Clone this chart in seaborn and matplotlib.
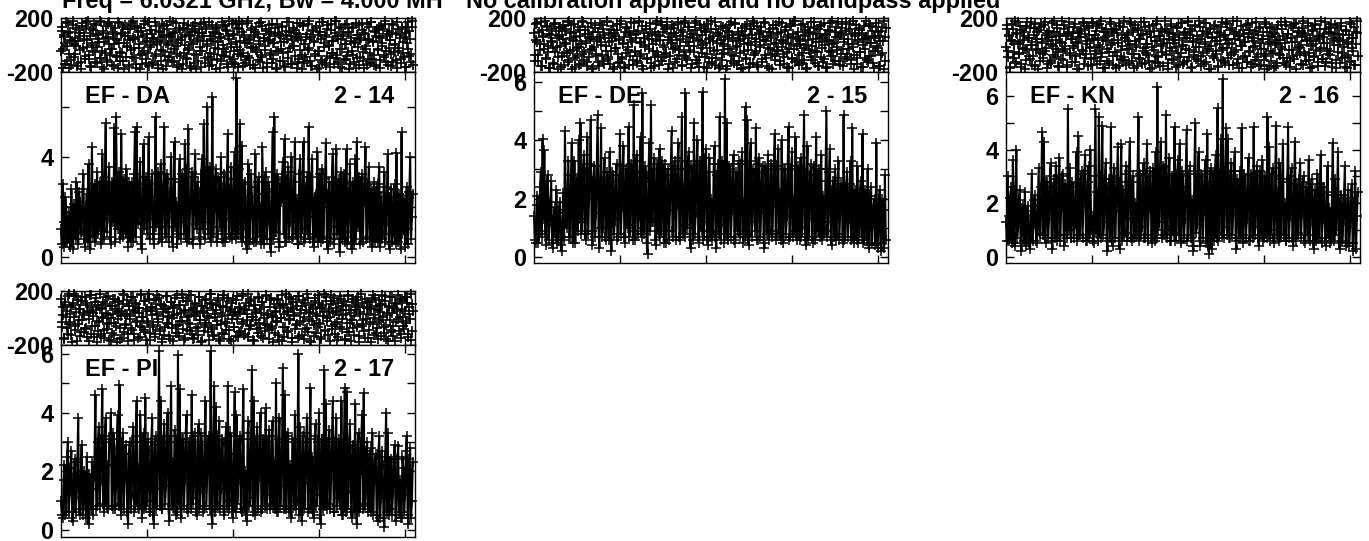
import numpy as np
import matplotlib
matplotlib.use('Agg')
import matplotlib.pyplot as plt
import seaborn as sns

baselines = ['EF - DA', 'EF - DE', 'EF - KN', 'EF - PI']
ids = ['2 - 14', '2 - 15', '2 - 16', '2 - 17']

# amplitudes on even channels
amp_da = [
    1.1, 2.9, 0.4, 2.0, 0.7, 1.6, 2.7, 0.3, 1.9, 3.0, 0.5, 2.2, 1.0, 3.3, 0.4, 2.5, 3.7, 0.3, 4.4, 1.4,
    0.6, 3.4, 1.2, 2.8, 4.1, 0.7, 5.35, 1.5, 3.6, 0.5, 2.9, 5.15, 5.6, 1.1, 3.2, 4.9, 0.8, 2.6, 3.5, 0.4,
    1.7, 3.0, 0.6, 5.0, 5.2, 1.3, 3.8, 0.3, 4.5, 2.1, 0.9, 4.8, 1.5, 3.3, 0.5, 5.6, 2.4, 0.7, 3.7, 1.2,
    5.2, 0.8, 3.1, 1.6, 4.0, 0.4, 4.6, 2.2, 0.9, 3.9, 1.4, 2.7, 4.5, 0.6, 5.1, 1.9, 3.4, 0.7, 4.1, 1.1,
    2.6, 0.5, 3.9, 5.3, 1.4, 6.0, 2.8, 0.6, 6.4, 1.8, 3.5, 0.9, 2.9, 4.0, 0.6, 3.3, 1.5, 4.9, 0.8, 3.6,
    1.2, 4.2, 7.15, 0.9, 5.3, 4.45, 1.1, 3.0, 0.3, 3.7, 1.6, 2.4, 0.6, 4.1, 1.0, 3.2, 2.0, 4.4, 0.5, 3.4,
    1.3, 2.7, 0.2, 5.0, 5.6, 1.0, 3.1, 0.4, 2.2, 3.8, 4.7, 0.6, 3.6, 1.4, 4.0, 0.8, 4.6, 2.3, 0.5, 3.9,
    1.1, 4.6, 0.7, 3.2, 5.2, 1.6, 3.9, 0.4, 2.5, 4.2, 1.3, 0.6, 3.5, 2.0, 4.55, 0.3, 3.0, 1.2, 4.1, 0.7,
    4.3, 1.5, 0.2, 3.4, 2.1, 0.6, 4.3, 1.0, 3.7, 0.3, 2.6, 3.9, 4.6, 1.4, 0.5, 3.3, 2.2, 4.4, 0.8, 3.6,
    1.2, 0.4, 3.0, 1.9, 0.6, 3.6, 2.4, 0.9, 3.4, 1.3, 4.1, 0.3, 2.7, 1.0, 2.9, 4.15, 0.6, 2.2, 5.0, 1.5,
    0.4, 2.8, 1.1, 4.0, 1.6,
]
amp_de = [
    1.4, 0.5, 2.1, 0.8, 2.9, 4.05, 3.65, 0.4, 2.8, 1.1, 2.6, 0.3, 1.7, 2.3, 0.6, 1.9, 0.2, 2.2, 4.3, 1.0,
    3.3, 0.7, 3.9, 1.6, 0.5, 2.7, 4.0, 4.6, 1.2, 3.5, 0.6, 4.1, 2.0, 4.7, 0.4, 3.1, 1.5, 4.85, 0.3, 4.4,
    1.0, 3.4, 0.6, 2.5, 3.6, 0.2, 2.8, 1.3, 3.2, 0.7, 4.2, 1.7, 3.8, 0.5, 2.4, 4.45, 1.1, 3.0, 5.2, 0.6,
    3.5, 1.4, 4.1, 5.6, 0.8, 2.9, 0.1, 3.9, 5.2, 1.2, 3.4, 0.4, 2.1, 3.7, 0.9, 2.6, 3.2, 0.5, 3.0, 1.6,
    4.3, 0.7, 3.3, 1.8, 3.9, 0.6, 4.8, 2.4, 5.6, 1.0, 3.6, 0.3, 2.9, 4.6, 1.5, 4.0, 0.5, 3.1, 5.65, 1.2,
    3.7, 0.4, 3.4, 2.0, 0.9, 3.8, 0.3, 3.2, 4.8, 1.1, 2.7, 6.1, 4.6, 0.7, 3.0, 1.6, 3.5, 0.5, 2.3, 3.3,
    0.8, 3.6, 1.9, 5.15, 4.7, 0.4, 3.9, 1.2, 2.8, 4.4, 0.6, 3.4, 1.5, 3.1, 0.3, 2.5, 3.5, 0.9, 3.2, 1.7,
    4.2, 0.8, 3.7, 2.2, 4.0, 0.5, 3.0, 1.4, 4.45, 0.7, 3.6, 2.0, 4.1, 0.6, 2.7, 3.4, 1.0, 4.85, 0.4, 3.8,
    1.3, 3.2, 0.5, 2.8, 4.1, 1.6, 0.7, 3.5, 2.1, 0.9, 5.0, 1.2, 3.7, 0.4, 2.6, 3.0, 0.8, 3.3, 1.5, 2.4,
    4.85, 0.7, 2.9, 1.3, 3.3, 4.4, 0.5, 2.2, 3.1, 1.0, 2.6, 4.2, 0.6, 1.8, 3.0, 0.4, 2.4, 1.1, 2.0, 3.9,
    0.3, 2.3, 0.2, 1.6, 2.8,
]
amp_kn = [
    1.3, 3.0, 0.6, 2.6, 3.6, 0.4, 4.0, 1.1, 2.5, 0.2, 1.9, 2.4, 0.6, 1.5, 0.3, 3.1, 1.2, 2.3, 0.5, 3.3,
    0.9, 4.65, 4.3, 0.5, 2.8, 1.4, 3.5, 0.3, 2.9, 3.4, 0.8, 3.7, 1.7, 3.1, 0.4, 2.2, 5.5, 3.3, 0.7, 2.6,
    1.2, 3.9, 4.5, 0.8, 3.2, 1.9, 3.8, 0.6, 3.4, 4.0, 1.5, 0.5, 5.5, 2.4, 5.2, 0.7, 4.9, 1.3, 3.5, 0.2,
    2.9, 4.85, 0.4, 3.3, 1.7, 4.1, 0.3, 4.2, 2.5, 0.9, 3.4, 1.4, 4.3, 0.6, 3.0, 2.0, 0.8, 5.2, 3.1, 1.1,
    3.5, 0.7, 4.2, 1.8, 3.2, 0.5, 2.7, 3.9, 6.35, 1.3, 4.3, 0.8, 3.3, 5.3, 1.0, 3.7, 0.6, 2.9, 4.85, 0.9,
    3.6, 4.2, 0.5, 2.6, 1.4, 4.75, 0.8, 3.4, 2.1, 0.2, 5.0, 1.2, 3.9, 0.4, 3.0, 1.7, 3.6, 4.6, 0.1, 3.3,
    2.0, 0.6, 3.8, 5.55, 0.9, 4.4, 6.65, 1.1, 4.8, 4.4, 0.7, 3.5, 1.5, 3.9, 0.3, 2.7, 3.2, 4.8, 0.5, 2.9,
    1.4, 3.7, 0.6, 3.0, 4.85, 1.1, 3.4, 0.4, 2.6, 3.6, 0.7, 2.2, 5.2, 4.1, 1.0, 3.3, 0.5, 4.9, 2.4, 3.5,
    0.8, 4.2, 2.0, 0.6, 4.85, 1.5, 3.3, 0.4, 4.3, 2.7, 0.9, 3.5, 1.6, 3.0, 0.5, 2.4, 3.6, 1.2, 2.9, 0.3,
    2.2, 3.1, 0.7, 3.8, 1.4, 2.6, 0.4, 3.4, 1.8, 0.6, 4.25, 2.9, 1.0, 3.9, 0.3, 2.3, 1.2, 3.4, 0.5, 2.5,
    1.1, 2.7, 0.2, 3.2, 1.5,
]
amp_pi = [
    1.0, 0.4, 2.2, 0.6, 3.0, 1.3, 2.7, 0.3, 2.4, 1.1, 3.8, 0.5, 2.9, 0.7, 1.6, 2.5, 0.2, 1.4, 2.3, 1.8,
    4.6, 0.8, 3.5, 1.7, 4.8, 0.6, 3.8, 2.2, 3.1, 4.0, 0.7, 2.8, 1.5, 3.9, 4.95, 0.5, 3.3, 1.8, 2.6, 0.2,
    3.0, 1.2, 3.5, 0.8, 4.4, 2.1, 3.9, 0.4, 3.3, 4.5, 1.0, 2.7, 0.6, 3.8, 0.2, 3.2, 1.4, 6.1, 4.4, 0.7,
    3.6, 1.5, 4.0, 0.3, 4.9, 2.3, 3.4, 0.5, 5.95, 4.8, 0.4, 3.1, 1.7, 3.9, 0.6, 3.0, 4.6, 1.1, 3.3, 0.5,
    3.6, 1.3, 2.9, 0.7, 4.4, 1.9, 3.2, 6.1, 0.2, 4.9, 4.2, 0.8, 3.7, 1.4, 3.0, 0.5, 3.5, 4.9, 1.0, 2.6,
    0.4, 4.7, 3.9, 1.6, 3.2, 0.6, 4.8, 2.0, 0.3, 3.7, 1.1, 5.45, 4.4, 0.5, 3.5, 1.8, 4.0, 0.7, 3.0, 4.15,
    1.2, 3.4, 0.9, 3.7, 2.3, 5.0, 0.6, 3.8, 1.5, 5.5, 4.6, 0.7, 3.3, 2.2, 0.4, 3.0, 3.9, 1.0, 6.0, 3.5,
    0.3, 3.3, 1.6, 3.8, 0.7, 4.85, 2.5, 0.4, 3.6, 1.2, 4.0, 0.2, 3.1, 5.45, 4.3, 0.9, 3.4, 1.7, 4.4, 0.6,
    3.8, 1.1, 2.9, 4.4, 0.5, 4.85, 4.7, 1.3, 3.6, 0.4, 2.8, 4.3, 0.2, 3.3, 1.9, 3.9, 4.65, 0.9, 3.0, 1.4,
    0.6, 3.3, 1.6, 2.6, 0.3, 3.2, 1.1, 2.2, 0.1, 4.0, 3.3, 0.7, 2.4, 1.3, 2.9, 0.5, 2.85, 1.7, 0.4, 2.1,
    1.2, 3.2, 0.2, 2.8, 1.0,
]

# amplitudes on odd channels
amp_da_odd = [
    0.5, 1.4, 2.4, 0.6, 1.8, 0.4, 1.2, 2.1, 0.7, 1.5, 2.6, 0.9, 2.7, 0.7, 2.0, 0.6, 1.1, 2.5, 0.8, 2.9,
    2.2, 0.9, 3.0, 0.5, 1.9, 3.2, 1.0, 2.8, 0.8, 3.0, 1.4, 0.6, 2.5, 3.4, 0.7, 1.7, 3.1, 0.9, 1.5, 3.0,
    0.6, 2.3, 3.3, 0.8, 1.6, 2.9, 0.5, 2.7, 1.1, 3.2, 2.5, 0.7, 2.9, 0.9, 2.2, 1.2, 3.4, 1.5, 0.6, 2.8,
    0.9, 3.3, 0.6, 2.6, 0.8, 3.1, 1.2, 0.5, 3.0, 0.7, 3.3, 0.9, 1.8, 3.5, 0.7, 2.4, 0.5, 3.2, 1.3, 3.0,
    0.8, 3.3, 1.1, 0.7, 3.4, 0.9, 3.6, 2.0, 0.8, 3.0, 0.6, 3.2, 1.2, 0.7, 2.9, 0.6, 3.4, 0.9, 2.7, 0.7,
    3.1, 0.7, 1.3, 3.5, 0.8, 0.6, 2.9, 0.6, 2.4, 0.5, 3.3, 0.7, 2.8, 0.6, 3.0, 0.8, 0.5, 2.5, 3.2, 0.7,
    3.0, 0.5, 2.6, 0.7, 1.0, 3.3, 0.6, 2.9, 3.2, 0.9, 0.6, 3.1, 0.8, 3.4, 0.7, 3.0, 0.9, 0.5, 3.3, 0.8,
    3.4, 0.6, 2.8, 0.9, 0.7, 3.2, 0.6, 2.4, 0.8, 0.6, 3.3, 2.7, 0.7, 3.1, 0.8, 2.5, 0.6, 3.2, 0.5, 3.0,
    0.9, 3.1, 2.6, 0.7, 3.3, 2.9, 0.5, 2.6, 0.8, 3.0, 0.5, 0.7, 1.2, 3.2, 2.8, 0.6, 3.1, 0.7, 2.9, 0.6,
    2.7, 2.3, 0.6, 2.8, 2.9, 0.4, 0.7, 2.6, 0.6, 2.8, 0.5, 2.4, 0.6, 2.7, 0.5, 0.8, 2.5, 0.3, 0.9, 2.3,
    2.1, 0.5, 2.6, 0.7, 2.5,
]
amp_de_odd = [
    0.6, 1.8, 0.5, 2.4, 0.7, 1.3, 0.9, 2.6, 0.6, 1.9, 0.5, 1.4, 0.7, 0.5, 1.6, 0.4, 1.2, 0.6, 1.5, 2.2,
    0.7, 2.8, 0.5, 3.3, 2.1, 0.9, 1.3, 0.8, 3.0, 0.9, 2.9, 0.8, 3.2, 0.9, 2.6, 0.7, 3.1, 1.0, 2.5, 0.7,
    2.7, 0.7, 2.9, 0.6, 1.1, 2.9, 0.8, 2.8, 0.6, 2.6, 0.8, 3.1, 0.7, 3.0, 1.0, 0.7, 3.2, 0.6, 0.9, 3.3,
    0.8, 2.9, 0.7, 1.0, 3.1, 0.5, 2.7, 0.9, 1.2, 3.0, 0.6, 3.2, 0.8, 0.7, 3.3, 0.5, 0.9, 2.8, 0.6, 3.0,
    0.9, 3.1, 0.6, 3.4, 0.7, 3.0, 0.8, 0.7, 1.1, 3.3, 0.8, 3.1, 0.6, 0.8, 3.2, 0.7, 3.3, 0.9, 0.6, 3.4,
    0.7, 2.9, 0.7, 0.6, 3.2, 0.7, 2.8, 0.8, 0.6, 3.3, 0.5, 0.8, 0.6, 3.1, 0.7, 3.2, 0.6, 2.9, 0.9, 0.7,
    3.2, 0.5, 0.7, 0.8, 0.6, 3.3, 0.7, 3.0, 0.9, 0.6, 3.2, 0.7, 2.9, 0.5, 3.1, 0.8, 0.6, 3.0, 0.7, 3.3,
    0.6, 3.1, 0.8, 0.6, 0.7, 3.0, 0.8, 3.2, 0.6, 3.0, 0.7, 0.9, 0.8, 3.1, 0.6, 0.7, 3.0, 0.8, 2.9, 0.6,
    2.8, 0.7, 3.1, 0.6, 0.9, 3.0, 2.6, 0.6, 0.8, 3.0, 0.7, 2.9, 0.6, 2.3, 0.7, 0.6, 2.7, 0.6, 2.5, 0.5,
    0.6, 2.4, 0.7, 2.5, 0.6, 0.7, 2.3, 0.6, 0.5, 2.2, 0.7, 0.5, 2.3, 0.6, 0.3, 2.1, 0.5, 1.8, 0.4, 0.5,
    1.9, 0.5, 2.0, 0.3, 0.6,
]
amp_kn_odd = [
    0.6, 1.5, 2.2, 0.5, 1.2, 2.5, 0.7, 2.1, 0.5, 1.8, 0.6, 0.4, 1.9, 0.5, 1.7, 0.6, 2.1, 0.6, 1.9, 0.8,
    2.6, 0.8, 0.7, 2.8, 0.7, 3.0, 0.6, 2.6, 0.7, 0.6, 2.9, 0.6, 3.0, 0.8, 2.7, 0.7, 1.0, 0.7, 2.8, 0.7,
    2.7, 0.6, 0.8, 2.9, 0.7, 3.1, 0.6, 2.8, 0.7, 1.0, 0.6, 3.0, 0.9, 0.6, 1.1, 3.0, 0.8, 2.9, 0.6, 2.6,
    0.7, 0.6, 3.0, 0.7, 2.9, 0.7, 2.8, 0.6, 0.8, 3.1, 0.6, 3.2, 0.7, 2.8, 0.7, 0.8, 3.2, 0.6, 0.8, 3.0,
    0.7, 3.1, 0.6, 3.0, 0.8, 3.3, 0.6, 0.7, 1.0, 3.2, 0.7, 3.4, 0.8, 0.7, 3.1, 0.6, 3.0, 0.8, 0.6, 3.1,
    0.8, 0.6, 3.2, 0.7, 3.0, 0.6, 3.1, 0.7, 0.4, 3.2, 0.9, 3.0, 0.6, 3.1, 0.7, 3.2, 0.5, 0.4, 2.8, 0.3,
    3.1, 3.2, 0.7, 0.6, 3.1, 0.8, 0.7, 3.2, 0.8, 0.7, 3.0, 0.8, 3.2, 0.6, 2.9, 0.7, 0.7, 0.8, 3.1, 0.7,
    3.0, 0.6, 3.1, 0.7, 0.8, 3.0, 0.7, 3.2, 0.8, 0.6, 3.0, 0.7, 0.8, 0.6, 3.1, 0.7, 3.0, 0.8, 0.6, 0.7,
    2.9, 0.8, 0.6, 2.8, 0.7, 3.0, 0.7, 2.7, 0.6, 0.8, 2.9, 0.7, 2.8, 0.6, 2.6, 0.8, 0.6, 2.7, 0.5, 2.5,
    0.6, 0.7, 2.7, 0.5, 2.6, 0.6, 2.4, 0.7, 0.5, 2.3, 0.6, 0.8, 2.4, 0.5, 2.2, 0.6, 2.3, 0.4, 2.0, 0.4,
    2.2, 0.5, 2.0, 0.3, 2.4,
]
amp_pi_odd = [
    0.5, 1.7, 0.5, 2.5, 0.6, 2.1, 0.4, 1.9, 0.6, 2.3, 0.7, 1.8, 0.5, 2.0, 0.4, 1.1, 1.9, 0.7, 0.5, 2.5,
    0.7, 3.0, 0.8, 3.1, 0.9, 3.2, 0.8, 0.7, 3.0, 0.8, 3.3, 0.7, 3.1, 0.8, 0.9, 3.0, 0.7, 2.9, 0.6, 2.6,
    0.7, 3.0, 0.6, 3.2, 0.8, 0.7, 3.0, 0.9, 0.7, 0.8, 3.1, 0.6, 3.0, 0.5, 2.9, 0.7, 3.1, 0.8, 0.7, 3.0,
    0.9, 3.2, 0.7, 3.0, 0.8, 0.7, 3.2, 0.6, 0.9, 0.7, 3.1, 0.8, 3.3, 0.7, 3.0, 0.7, 0.9, 3.2, 0.6, 3.0,
    0.7, 3.3, 0.6, 3.2, 0.8, 3.0, 0.7, 0.5, 3.1, 0.6, 0.8, 3.2, 0.7, 3.1, 0.6, 3.0, 0.8, 0.7, 3.3, 0.6,
    3.2, 0.6, 0.9, 3.0, 0.7, 3.1, 0.7, 0.5, 3.3, 0.8, 3.1, 0.6, 0.8, 3.0, 0.7, 3.2, 0.6, 3.1, 0.8, 0.7,
    3.0, 0.7, 3.2, 0.8, 0.7, 0.6, 3.1, 0.8, 3.0, 0.7, 0.8, 3.2, 0.6, 0.7, 3.1, 0.8, 0.7, 3.0, 0.5, 0.7,
    3.2, 0.7, 3.0, 0.6, 3.1, 0.7, 0.6, 3.2, 0.8, 3.0, 0.5, 3.1, 0.7, 0.8, 0.7, 3.0, 0.7, 3.1, 0.6, 3.0,
    0.8, 3.1, 0.7, 0.5, 3.0, 0.6, 0.7, 3.0, 0.7, 2.9, 0.6, 0.7, 2.8, 0.6, 3.0, 0.7, 0.8, 2.7, 0.6, 2.6,
    2.8, 0.5, 2.4, 0.5, 2.6, 0.4, 2.7, 0.4, 2.5, 0.6, 0.5, 2.3, 0.5, 2.5, 0.3, 2.4, 0.6, 0.4, 2.5, 0.6,
    2.7, 0.5, 2.4, 0.4, 2.3,
]

phase_da = [
    -42, 131, -170, 77, 12, -118, 160, -63, 95, -150, 28, 175, -88, 54, -5, -135, 110, 66, -176, 143, -22, 89, -101, 168, 35, -72, -158, 120, 3, -45, 152, -127, 81, -14, 47, 178, -93, -166, 101, 20,
    -60, 139, -110, 58, 172, -33, -149, 84, 9, 126, -78, 37, -174, 163, -52, 92, -120, 15, 147, -86, -10, 70, -163, 115, -38, 180, -98, 43, -142, 135, 62, -25, -178, 104, -68, 156, 24, -130, 79, -56,
    170, -16, 112, -140, 49, -82, 144, 6, -168, 97, 31, -115, 159, -48, 73, -155, 122, -3, -92, 176, 56, -125, 88, -30, 165, -70, 18, -145, 108, 40, -180, 129, -58, 75, -105, 150, -20, 64, -172, 98,
    11, -136, 166, -76, 52, 117, -44, -160, 86, 27, 174, -96, 133, -8, -152, 68, -112, 146, 33, -64, 91, -175, 124, -27, 59, -122, 169, 2, -84, 141, -50, 106, -165, 45, -12, 154, -100, 76, -138, 22,
    128, -66, 179, -35, 94, -156, 60, 13, -108, 162, -80, 38, -147, 113, -18, 72, -170, 136, -54, 85, 5, -128, 171, -90, 50, -40, 118, -162, 30, 149, -74, 99, -133, 17, 63, -178, 157, -46, 82, -116,
    25, 140, -62, -153, 107, 42, -94, 173, -24, 69, -143, 125, -6, 90, -168, 55, -104, 161, 34, -77, 148, -132, 10, 78, -36, 177, -118, 61, -159, 102, 19, -85, 138, -47, -173, 93, 46, -126, 167, -15,
    74, -150, 119, 0, -99, 155, -57, 29, -139, 87, 175, -71, 44, -164, 127, -28, 65, -111, 145, 8, -83, 100, -177, 53, -41, 134, -124, 21, 164, -95, 71, -146, 39, 111, -53, -169, 83, -11, 158, -103,
    48, -134, 172, 26, -75, 96, -157, 121, -31, 57, -114, 142, 14, -89, 178, -43, 67, -148, 103, 36, -65, 153, -129, 7, 80, -171, 116, -23, 51, -107, 137, -59, -161, 92, 16, 168, -79, 41, -123, 130,
]
phase_de = [
    88, -120, 35, 164, -72, 10, -155, 112, 57, -30, 175, -96, 143, -8, -168, 76, 23, -134, 158, -49, 101, -12, -177, 66, 130, -85, 41, -147, 119, 4, -61, 172, -110, 52, 150, -38, 93, -163, 28, -78,
    137, -18, 70, -143, 179, -55, 108, 15, -125, 83, -92, 46, 161, -26, -172, 125, -68, 32, 96, -152, 60, -3, 145, -115, 74, -42, 169, -88, 19, -138, 114, 50, -175, 87, -21, 153, -64, 38, -128, 176,
    -103, 7, 62, -160, 133, -34, 90, -82, 167, 24, -146, 105, -52, 78, -118, 171, 12, -70, 141, -178, 55, -15, 122, -99, 44, 163, -131, 81, -45, -158, 99, 30, 177, -75, 64, -122, 148, 1, -91, 116,
    -58, 174, 36, -141, 85, 17, -167, 128, -24, 69, -106, 155, -40, 47, -151, 94, 165, -80, 21, -113, 136, -6, 59, -174, 79, -50, 110, 178, -136, 40, -87, 147, -20, 72, -161, 103, 13, -66, 159, -126,
    51, 180, -95, 26, -149, 118, -36, 84, -170, 65, 140, -109, 9, -60, 127, -156, 42, 97, -28, 173, -76, 54, -137, 156, -11, 82, -119, 33, -179, 107, 68, -47, 144, -93, 18, -164, 121, -2, 77, -130,
    166, -56, 45, -145, 91, -16, 134, -101, 58, 170, -73, 27, -154, 100, -33, 63, -176, 123, 6, -84, 149, -43, 86, -117, 37, 160, -69, -140, 109, 14, -165, 75, -29, 142, -98, 49, 178, -124, 61, -9,
    95, -150, 31, -62, 152, -112, 71, 3, -171, 131, -37, 89, -86, 43, 168, -132, 20, -54, 117, -159, 67, 146, -23, -104, 80, -173, 39, 113, -48, 162, -79, 11, -142, 98, 56, -14, 174, -121, 73, -65,
    129, -157, 25, 104, -89, 48, -31, 154, -108, 8, 179, -71, 92, -144, 34, 124, -53, -166, 77, -1, 139, -97, 60, -127, 157, 16, -83, 106, -41, -169, 53, 135, -19, 68, -153, 102, -59, 29, 175, -116,
]
phase_kn = [
    -15, 148, -92, 63, -170, 29, 115, -54, 178, -130, 82, 6, -67, 141, -160, 38, 99, -27, -112, 167, 51, -83, 126, -3, -148, 74, 159, -40, 20, -175, 108, -62, 133, 44, -98, 172, -19, 88, -141, 57,
    -120, 10, 163, -76, 95, -33, 146, -156, 68, 24, -105, 180, -47, 117, -7, -165, 79, 135, -58, 42, -128, 90, -22, 155, -85, 13, -178, 102, 60, -36, 170, -139, 84, -70, 31, 124, -12, -150, 47, 161,
    -94, 72, -45, 143, 2, -116, 176, -60, 35, 97, -169, 120, -26, 66, -134, 152, 18, -79, 109, -52, -173, 86, 40, 165, -107, -9, 130, -87, 55, -145, 77, 26, -31, 173, -122, 93, -65, 149, -1, -158,
    113, 48, -100, 71, -42, 169, -136, 11, 83, -74, 138, -177, 59, -17, 104, -126, 157, 33, -91, 65, -152, 122, -49, 5, 175, -69, 96, -137, 46, -24, 144, -110, 80, 15, -163, 128, -56, 37, -88, 166,
    -5, -143, 91, 54, -119, 179, -38, 76, -167, 107, 22, -72, 150, -101, 43, -13, 132, -154, 69, -61, 160, 8, -125, 87, -29, 118, -176, 50, -81, 140, 28, -44, 100, -162, 62, -114, 171, -20, 75, -133,
    36, 154, -97, 12, -57, 127, -147, 81, 45, -35, 177, -103, 67, -10, -171, 111, 19, -78, 145, -123, 56, 89, -50, 164, -140, 30, -4, 101, -90, 73, -159, 136, -28, 41, -111, 168, -68, 94, 7, -153,
    123, -41, 61, -174, 85, 17, -131, 151, -63, 34, -16, 116, -95, 174, -145, 49, 78, -39, -117, 139, 23, -82, 158, -179, 64, -25, 103, -59, 1, 129, -149, 92, -73, 39, 162, -108, 52, -11, -166, 110,
    -86, 147, 27, -129, 70, -46, 178, -102, 58, 14, -157, 119, -32, 98, -71, 153, -135, 44, -2, 83, -172, 125, -53, 32, 142, -93, 75, -18, -161, 106, 21, -77, 173, -118, 53, -43, 134, -151, 9, 88,
]
phase_pi = [
    140, -65, 22, -158, 97, 51, -118, 175, -30, 80, -176, 112, 8, -89, 160, -44, 66, -135, 129, -12, 36, -104, 153, -72, 93, -167, 48, 170, -56, 15, -140, 121, 60, -25, -95, 178, -116, 77, 2, -150,
    106, 40, -81, 164, -37, -170, 87, 26, -128, 143, -61, 70, -9, 118, -152, 55, 176, -100, 33, -48, 137, -173, 90, 18, -76, 157, -121, 46, 102, -19, -146, 74, -58, 168, 11, -92, 125, -163, 63, -34,
    180, -110, 52, 85, -68, -142, 132, 29, -7, 150, -84, 99, -178, 42, -124, 67, 166, -41, 6, -155, 115, -73, 78, 24, -108, 172, -53, -132, 96, 38, -21, 146, -165, 59, -87, 127, 13, -46, 174, -120,
    71, -148, 103, 31, -63, 159, -14, -175, 88, 49, -99, 134, -39, 16, -160, 113, 177, -79, 61, -127, 4, 94, -52, 148, -169, 35, -113, 82, 169, -28, -91, 124, 20, -154, 69, -6, 141, -70, 47, -137,
    162, 27, -103, 75, -43, 180, -125, 57, 109, -17, -144, 86, -60, 138, 10, -172, 100, 41, -83, 155, -35, 64, -131, 120, -1, -94, 171, -50, 32, -157, 84, 145, -74, 17, -111, 54, -24, 131, -162, 92,
    3, 167, -66, -139, 107, 43, -97, 152, -11, 72, -179, 117, 25, -55, 89, -147, 163, -32, 58, -123, 136, 7, -78, 175, -106, 44, -168, 98, -20, 68, -133, 151, 30, -64, 111, -45, -156, 81, 12, 179,
    -88, 126, -2, 50, -171, 104, -59, 34, 147, -115, 76, -26, -143, 165, 62, -82, 19, 123, -164, 95, -40, 173, -101, 39, -13, 139, -129, 83, 56, -69, 158, -177, 28, 110, -47, -93, 144, -8, 73, -151,
    119, -33, 65, 174, -126, 1, 91, -75, -159, 135, 45, -16, 101, -112, 161, -54, 23, -174, 79, 154, -86, 37, -134, 114, -27, 60, 168, -98, 9, -149, 128, -62, 49, -23, 156, -119, 85, -4, -166, 105,
]

# second pass of phase readings, between the ones above
phase_da_b = [
    103, -27, 58, -144, 171, -9, 86, -173, 39, -112, 149, 4, -69, 124, -155, 31, 92, -37, -128, 161, 47, -81, 135, -18, 177, -104, 66, -162, 13, 109, -51, 146, -132, 74, 22, -97, 167, -41, 88, -175,
    55, -123, 157, 6, -71, 140, -30, 99, -153, 43, -86, 172, 17, -116, 79, -60, 131, -178, 63, -12, 118, -146, 34, 164, -90, 51, -25, 143, -169, 96, 8, -75, 126, -139, 70, -44, 179, -101, 28, -157,
    113, -2, 82, -127, 48, 168, -65, 21, -147, 107, -34, 60, -176, 138, -83, 15, 151, -109, 76, -54, 29, 174, -121, 93, -7, -166, 45, 129, -78, 57, -142, 160, 1, -95, 116, -38, 71, -158, 25, 144,
    -68, 102, -180, 36, -119, 87, -16, 155, -48, 67, -135, 122, 10, -89, 170, -59, 41, -151, 98, -23, 133, -106, 19, 78, -171, 52, -74, 147, -33, 111, -141, 64, 175, -92, 5, -125, 84, -47, 162, -14,
    -164, 120, 32, -84, 153, -56, 73, -131, 16, 178, -99, 44, -21, 128, -149, 61, 94, -39, -113, 166, 27, -72, 139, -174, 50, -6, 105, -134, 81, 35, -61, 159, -103, 12, 125, -45, -168, 90, 68, -28,
    137, -117, 23, -160, 75, 173, -52, 100, -143, 37, -10, 114, -79, 56, 165, -129, 83, -35, -177, 142, 9, -91, 62, -120, 152, -19, 42, -154, 108, 30, -66, 127, -180, 77, -43, 95, -110, 169, 14, -137,
    59, -82, 148, -4, -161, 112, 26, -57, 176, -94, 69, -126, 134, -32, 46, -172, 85, 11, -107, 156, -49, 97, -140, 33, 123, -73, 18, -167, 72, -13, 150, -87, 54, 163, -118, 89, -29, -148, 40, 130,
    -62, 174, -100, 24, -145, 106, 65, -36, 136, -170, 49, -8, 115, -77, 158, -124, 80, -20, 38, -159, 91, 145, -55, 3, -111, 169, -42, 76, -136, 119, 20, -88, 60, -165, 132, -26, 104, -70, 175, -150,
]
phase_de_b = [
    -76, 159, 21, -118, 94, -39, 172, -154, 63, 8, -101, 137, -52, 85, -170, 30, 117, -23, -139, 166, 49, -88, 126, -11, -162, 73, 145, -60, 16, 105, -128, 178, -43, 91, -176, 37, 153, -95, 58, -19,
    -148, 112, 5, -67, 170, -109, 80, 26, -157, 133, -34, 61, -179, 98, -15, 147, -83, 42, -123, 164, 19, -71, 121, -143, 55, -6, 175, -102, 87, -47, 29, 138, -165, 69, -25, 110, -131, 44, 156, -90,
    12, -173, 96, -57, 128, -12, -151, 77, 34, -114, 162, -41, 52, -135, 103, 180, -78, 23, -159, 89, -1, 141, -106, 65, -30, 119, -168, 47, 8, -92, 154, -53, 75, -146, 36, 174, -120, 100, -17, -64,
    134, -180, 59, -84, 15, 149, -28, 92, -125, 40, 167, -73, -4, 113, -156, 68, -49, 176, -97, 24, 130, -37, 83, -141, 51, -10, 160, -111, 71, -163, 33, 124, -56, 2, 143, -86, 97, -174, 46, -22,
    115, -133, 64, -45, 171, -99, 18, 88, -152, 39, -69, 136, -8, 56, -178, 104, -31, 151, -116, 76, 27, -82, 165, -13, -147, 93, 43, -61, 127, -169, 9, 72, -105, 158, -35, 54, -138, 118, 179, -77,
    20, -48, 140, -160, 84, -3, 107, -129, 35, 163, -93, 66, -24, -172, 122, 50, -68, 146, -113, 14, 78, -40, 173, -149, 99, -16, 31, -87, 131, -55, 60, -167, 155, 6, -100, 82, -33, 176, -122, 44,
    -74, 11, 148, -137, 69, -21, 111, -177, 38, 95, -59, 168, -7, -108, 126, -44, 81, -155, 22, 142, -91, 53, -127, 161, -2, 74, -164, 32, 101, -51, 179, -80, 17, -117, 135, -36, 62, -145, 90, 157,
    -27, 48, -103, 169, -70, 4, 120, -142, 79, -18, -175, 67, 150, -94, 25, 109, -54, 86, -161, 41, -29, 177, -112, 57, -85, 144, 13, -134, 70, -46, 166, -5, 98, -153, 28, -72, 132, -178, 61, 123,
]
phase_kn_b = [
    122, -48, 71, -165, 34, 156, -93, 9, -128, 87, 174, -61, 25, -144, 110, -19, 64, -176, 139, -35, 52, -107, 168, 3, -82, 127, -153, 43, 95, -26, -119, 160, 18, -70, 145, -41, 77, -171, 30, 103,
    -137, 59, -8, 178, -90, 36, 124, -55, -160, 84, 13, -113, 151, -30, 68, -148, 99, 171, -74, 46, -11, 133, -126, 22, -179, 91, 56, -64, 116, -43, 163, -96, 7, 140, -155, 75, -23, -104, 173, 38,
    -67, 105, -140, 50, 152, -16, -87, 129, -172, 61, 27, -122, 83, -51, 167, -2, 96, -146, 40, 118, -78, 15, -159, 142, -36, 72, -109, 177, 54, -29, 88, -134, 11, 158, -65, 112, -174, 33, -12, 125,
    -98, 47, 169, -143, 79, -21, 135, -58, 4, -116, 93, 62, -168, 149, -39, 26, -85, 176, -131, 67, -4, 107, -156, 44, 120, -73, 16, -178, 86, 154, -47, 35, -101, 60, -17, 137, -150, 76, -62, 164,
    1, -127, 94, -33, 53, 172, -89, 115, -163, 28, -54, 144, -14, 70, -121, 180, 41, -80, 101, -139, 19, 161, -45, 82, -175, 123, -6, 57, -99, 147, -68, 32, -157, 90, 10, 130, -37, -118, 74, 166,
    -25, 48, -145, 113, -76, 5, 175, -52, 97, -133, 65, -169, 37, 141, -9, -92, 81, 23, -124, 155, -42, 108, -161, 55, -18, 78, -110, 170, -63, 126, 14, -149, 45, 100, -31, -84, 159, -177, 69, 20,
    -115, 136, -57, 89, -3, -152, 117, 39, -71, 174, -27, 63, -130, 12, 148, -95, 85, -166, 50, -40, 128, -106, 24, 165, -75, 98, -13, -141, 58, 179, -49, 72, -120, 31, 143, -60, -173, 106, 8, -83,
    153, -34, 66, -154, 42, 119, -20, -100, 79, 171, -128, 17, -69, 132, -46, 92, -164, 29, 147, -112, 51, -1, 80, -136, 162, -56, 35, -88, 111, -170, 6, 73, -123, 157, -24, 49, -147, 94, 177, -78,
]
phase_pi_b = [
    -33, 84, -151, 117, 9, -72, 165, -44, 28, -127, 93, 176, -58, 41, -169, 134, -16, 70, -100, 155, 21, -85, 110, -143, 53, -5, 172, -119, 79, 36, -62, 148, -175, 96, -27, 63, -134, 11, 122, -90,
    159, -48, 25, -162, 86, 3, -109, 141, -37, 67, -178, 128, 47, -75, 16, -146, 103, 170, -55, 32, -122, 91, -10, 153, -88, 58, -166, 114, -31, 76, 39, -139, 179, -66, 8, 125, -103, 50, -19, 144,
    -160, 81, 23, -49, 137, -115, 65, 174, -29, -94, 106, -152, 14, 89, -70, 163, -40, 43, -130, 119, -3, -173, 72, 150, -60, 30, -111, 97, -24, 177, -83, 55, -145, 129, 6, -38, 168, -98, 62, -156,
    18, 112, -76, 45, -125, 157, -13, 87, -167, 35, -52, 143, 74, -107, 0, 180, -68, 101, -137, 26, 60, -20, 131, -154, 92, -43, 12, 171, -116, 78, -34, 147, -86, 52, -174, 108, 19, -63, 135, -7,
    -141, 83, 42, -96, 160, -26, 69, -120, 33, 175, -78, 126, -51, 5, -164, 99, 56, -15, -112, 151, -71, 37, 115, -149, 80, -41, 166, 22, -91, 133, -57, 10, -176, 104, 48, -30, 142, -124, 75, -2,
    -170, 95, 29, -64, 178, -105, 54, -17, 138, -147, 68, 13, -82, 120, -46, 161, -132, 40, 90, -25, -158, 111, 61, -73, 146, -9, 34, -179, 85, -54, 124, -113, 17, 169, -36, 77, -140, 100, 44, -93,
    156, -22, -128, 66, 7, 173, -84, 127, -45, 51, -163, 109, 24, -67, 140, -11, 88, -153, 31, -104, 164, 59, -35, -171, 116, -77, 15, 136, -50, 94, -131, 46, 177, -59, -12, 82, -148, 118, 27, -87,
    71, -177, 130, -42, 20, 149, -110, 57, -28, 98, -135, 167, 4, -69, 123, -157, 38, 86, -18, -101, 152, -61, 73, -172, 105, 49, -8, 139, -121, 64, 11, -80, 158, -39, 113, -144, 26, 175, -97, 54,
]

amp_even = [amp_da, amp_de, amp_kn, amp_pi]
amp_odd = [amp_da_odd, amp_de_odd, amp_kn_odd, amp_pi_odd]
phase_a = [phase_da, phase_de, phase_kn, phase_pi]
phase_b = [phase_da_b, phase_de_b, phase_kn_b, phase_pi_b]
amp_tops = [7.4, 6.33, 6.9, 6.3]
amp_bottoms = [-0.24, -0.2, -0.24, -0.24]
amp_ticks = [[0, 2, 4, 6], [0, 1, 2, 3, 4, 5, 6], [0, 1, 2, 3, 4, 5, 6], [0, 1, 2, 3, 4, 5, 6]]
amp_labels = [
    ['0', '', '4', ''],
    ['0', '', '2', '', '4', '', '6'],
    ['0', '', '2', '', '4', '', '6'],
    ['0', '', '2', '', '4', '', '6'],
]
# left, top of phase, bottom of amp in pixels
panel_px = [(61, 18, 263), (534, 18, 263), (1006, 18, 263), (61, 291, 537)]

W, H = 1369, 541
PANEL_W, PHASE_H = 354, 54
FONT = 16.9
BLACK = '#000000'  # seaborn's color codes turn 'k' into dark grey

sns.set_theme(style='ticks')
plt.rcParams['font.family'] = ['Liberation Sans', 'DejaVu Sans']
plt.rcParams['font.weight'] = 'bold'
plt.rcParams['xtick.direction'] = 'in'
plt.rcParams['ytick.direction'] = 'in'

fig = plt.figure(figsize=(W / 100, H / 100), dpi=100)


def make_axes(left, top, height):
    return fig.add_axes([left / W, 1 - (top + height) / H, PANEL_W / W, height / H])


def style_axes(ax):
    ax.set_xlim(0, 411.6)
    ax.set_xticks([100, 200, 300, 400])
    ax.set_xticklabels([])
    ax.set_xlabel('')
    ax.set_ylabel('')
    ax.tick_params(axis='both', length=6, width=1, color=BLACK, top=True, right=True,
                   labelsize=FONT, labelcolor=BLACK, pad=5.5)
    for s in ax.spines.values():
        s.set_visible(True)
        s.set_color(BLACK)
        s.set_linewidth(1)


for i in range(4):
    left, top, bottom = panel_px[i]

    ax_p = make_axes(left, top, PHASE_H)
    phase = np.column_stack([phase_a[i], phase_b[i]]).ravel()
    x_phase = np.linspace(0, 409, len(phase))
    sns.scatterplot(x=x_phase, y=phase, ax=ax_p, marker='+', s=60, color=BLACK,
                    linewidth=1.2, clip_on=False, zorder=3)
    ax_p.set_ylim(-200, 200)
    ax_p.set_yticks([-200, 200])
    ax_p.set_yticklabels(['-200', '200'])
    style_axes(ax_p)

    ax_a = make_axes(left, top + PHASE_H, bottom - top - PHASE_H)
    amp = np.column_stack([amp_even[i], amp_odd[i]]).ravel()
    x_amp = np.arange(len(amp))
    sns.lineplot(x=x_amp, y=amp, ax=ax_a, color=BLACK, linewidth=1.5, marker='+',
                 markersize=7.5, markeredgewidth=1.1, markeredgecolor=BLACK, estimator=None,
                 errorbar=None, sort=False, clip_on=False)
    ax_a.set_ylim(amp_bottoms[i], amp_tops[i])
    ax_a.set_yticks(amp_ticks[i])
    ax_a.set_yticklabels(amp_labels[i])
    style_axes(ax_a)
    ax_a.text(0.068, 0.87, baselines[i], transform=ax_a.transAxes, fontsize=FONT,
              ha='left', va='center', color=BLACK, zorder=5)
    ax_a.text(0.94, 0.87, ids[i], transform=ax_a.transAxes, fontsize=FONT,
              ha='right', va='center', color=BLACK, zorder=5)

fig.text(62 / W, 1 - 8 / H, 'Freq = 6.0321 GHz, Bw = 4.000 MH', fontsize=FONT, color=BLACK, va='baseline')
fig.text(466 / W, 1 - 8 / H, 'No calibration applied and no bandpass applied', fontsize=FONT, color=BLACK, va='baseline')

fig.savefig('out.png', dpi=100)
